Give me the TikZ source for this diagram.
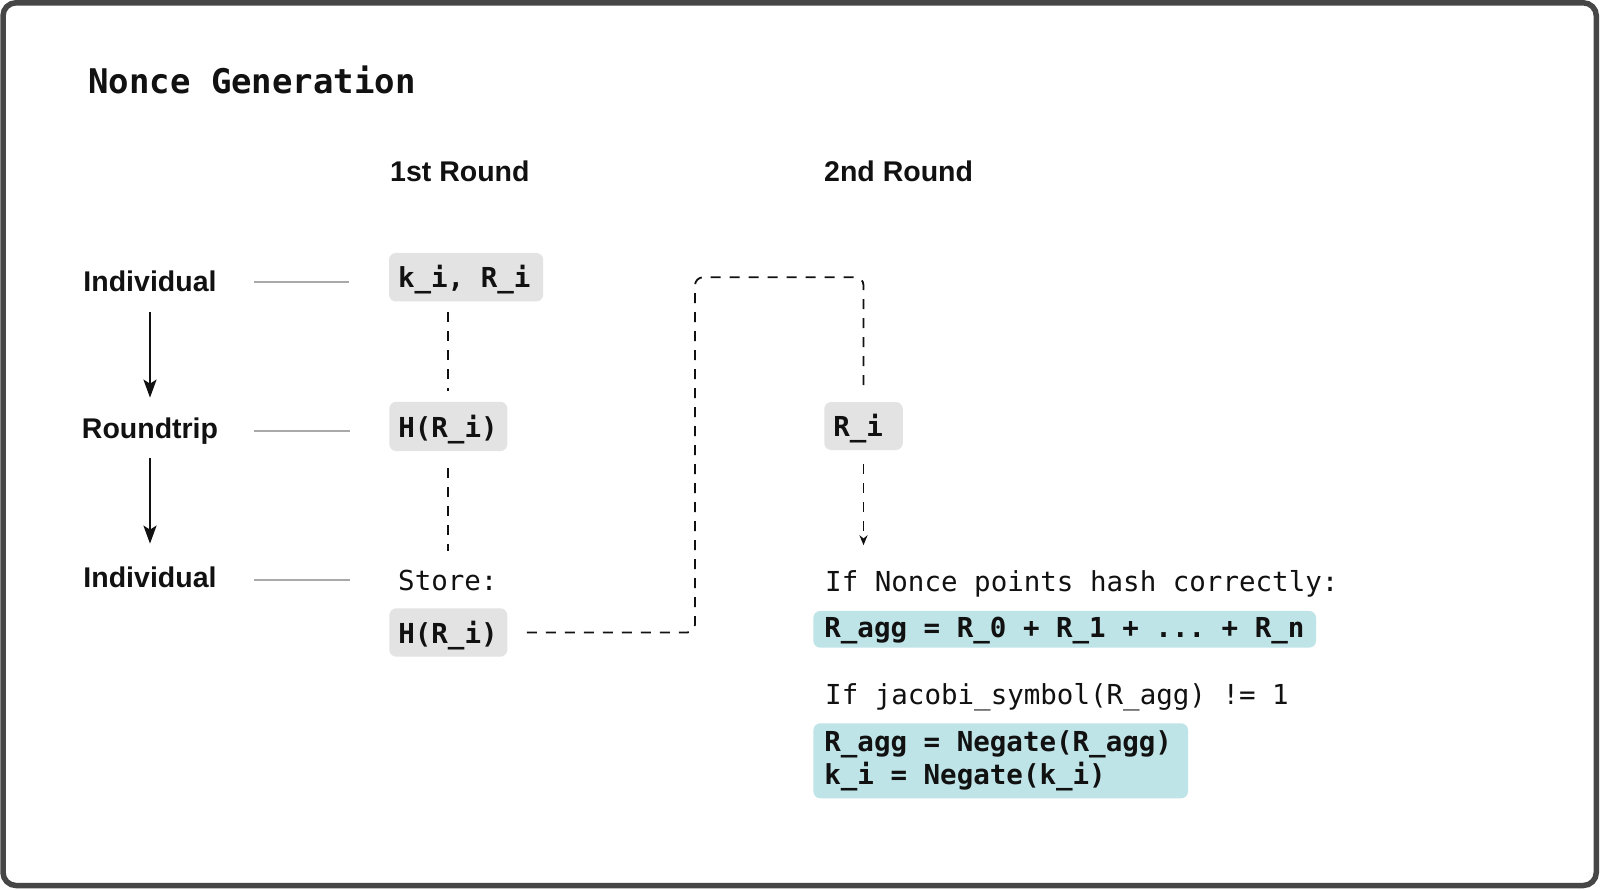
\documentclass[tikz,border=0pt]{standalone}
\usepackage{fontspec}
\setmainfont{Liberation Sans}
\newfontfamily\monofont{DejaVu Sans Mono}
\newcommand{\msp}{\hspace*{.602em}}
\usetikzlibrary{arrows.meta}
\definecolor{framecol}{HTML}{464646}
\definecolor{boxgray}{HTML}{E3E3E3}
\definecolor{boxteal}{HTML}{BFE4E8}
\definecolor{sepgray}{HTML}{A9A9A9}
\definecolor{ink}{HTML}{111111}
\tikzset{
  lbl/.style={font=\fontsize{28.5}{34}\selectfont\bfseries, inner sep=0pt, anchor=base, text=ink},
  hdr/.style={font=\fontsize{28.5}{34}\selectfont\bfseries, inner sep=0pt, anchor=base west, text=ink},
  mono/.style={font=\monofont\fontsize{27.5}{32.3}\selectfont, inner sep=0pt, anchor=base west, text=ink},
  graybox/.style={fill=boxgray, rounded corners=7pt, text=ink,
    font=\monofont\bfseries\fontsize{27.5}{32.3}\selectfont,
    inner xsep=9pt, inner ysep=0pt, align=left, text height=21.5pt, text depth=0pt},
  tealbox/.style={fill=boxteal, rounded corners=7pt, text=ink,
    font=\monofont\bfseries\fontsize{27.5}{32.3}\selectfont,
    inner xsep=11pt, inner ysep=0pt, align=left},
  sep/.style={draw=sepgray, line width=1.5pt},
  flow/.style={draw=ink, line width=2.6pt, -{Stealth[length=18pt,width=13pt,inset=4pt]}},
  dashline/.style={draw=ink, line width=1.8pt, dash pattern=on 10pt off 9pt},
}
\begin{document}
\begin{tikzpicture}[x=1pt,y=-1pt]
\useasboundingbox (0,0) rectangle (1600,890);
\fill[white] (0,0) rectangle (1600,890);
\draw[framecol, line width=5.5pt, rounded corners=13pt] (3,2.8) rectangle (1596.3,885.5);

% title and headers
\node[font=\monofont\bfseries\fontsize{34}{40}\selectfont, inner sep=0pt, anchor=base west, text=ink] (title) at (88,94) {Nonce\msp Generation};
\node[hdr] (r1) at (390,182) {1st Round};
\node[hdr] (r2) at (824,182) {2nd Round};

% left column
\node[lbl] (ind1) at (150,292) {Individual};
\node[lbl] (rt) at (150,438.5) {Roundtrip};
\node[lbl] (ind2) at (150,587) {Individual};

% first round
\node[graybox, text width=136.2pt, minimum height=48.5pt] (kbox) at (466.1,277.2) {k\_i,\msp R\_i};
\node[graybox, text width=100pt, minimum height=49.3pt] (h1) at (448.3,426.4) {H(R\_i)};
\node[mono] (store) at (398,590) {Store:};
\node[graybox, text width=100pt, minimum height=48.4pt] (h2) at (448.3,632.5) {H(R\_i)};

% second round
\node[graybox, text width=60.5pt, minimum height=48pt] (ri) at (863.5,426) {R\_i};
\node[mono] (nonce) at (825,591.5) {If Nonce points hash correctly:};
\node[tealbox, text width=480.7pt, minimum height=36.7pt, text height=17pt, text depth=0pt] (agg) at (1064.7,629.3) {R\_agg\msp=\msp R\_0\msp+\msp R\_1\msp+\msp...\msp+\msp R\_n};
\node[mono] (jac) at (825,704) {If jacobi\_symbol(R\_agg) != 1};
\node[tealbox, text width=352.7pt, minimum height=75pt] (neg) at (1000.7,760.8) {R\_agg\msp=\msp Negate(R\_agg)\\k\_i\msp=\msp Negate(k\_i)};

% left flow arrows
\draw[flow, shorten <=20pt, shorten >=20pt] (ind1) -- (rt);
\draw[flow, shorten <=13.5pt, shorten >=22.5pt] (rt) -- (ind2);

% separator lines
\draw[sep, shorten <=37.5pt, shorten >=39.5pt] (ind1.east) -- (ind1.east -| kbox.west);
\draw[sep, shorten <=36pt, shorten >=39.3pt] (rt.east) -- (rt.east -| h1.west);
\draw[sep, shorten <=37.5pt, shorten >=48pt] (ind2.east |- store.west) -- (store.west);

% dashed connectors
\draw[dashline, shorten <=10.5pt, shorten >=10.7pt] (h1.north |- kbox.south) -- (h1.north);
\draw[dashline, shorten <=17pt, shorten >=18pt] (h1.south) -- (h1.south |- store.north);
\coordinate (bend) at (695,277.3);
\draw[dashline, rounded corners=8pt, shorten <=19.4pt, shorten >=12.4pt] (h2.east) -- (h2.east -| bend) -- (bend) -- (bend -| ri.north) -- (ri.north);
\draw[dashline, -{Stealth[length=10pt,width=8pt]}, shorten <=14pt, shorten >=25pt] (ri.south) -- (ri.south |- nonce.north);
\end{tikzpicture}
\end{document}
